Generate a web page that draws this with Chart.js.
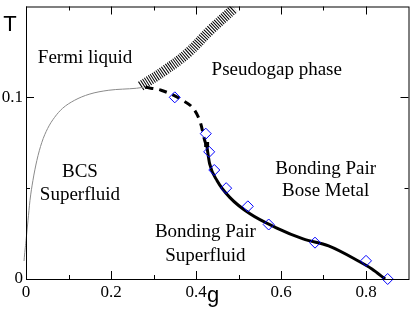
<!DOCTYPE html>
<html>
<head>
<meta charset="utf-8">
<script src="https://cdn.jsdelivr.net/npm/chart.js@4.4.0/dist/chart.umd.min.js"></script>
<style>
  html, body { margin: 0; padding: 0; background: #fff; }
  #wrap { width: 415px; height: 311px; position: relative; }
</style>
</head>
<body>
<div id="wrap"><canvas id="phaseDiagram"></canvas></div>
<script>
// axis ticks
const gMajorTicks = [0, 0.2, 0.4, 0.6, 0.8];
const gTickLabels = ['0', '0.2', '0.4', '0.6', '0.8'];
const gMinorTicks = [0.1, 0.3, 0.5, 0.7];
const tMajorTicks = [0, 0.1];
const tTickLabels = ['0', '0.1'];
const tMinorTicks = [0.05];

// BCS boundary (thin gray line)
const bcsG = [-0.007, -0.0046, 0, 0.0046, 0.0093, 0.0162, 0.0255, 0.0371, 0.051, 0.0673, 0.0858, 0.1137, 0.1485, 0.1949, 0.2599, 0.2761];
const bcsT = [0, 0.0099, 0.021, 0.032, 0.0431, 0.0541, 0.0652, 0.0751, 0.0829, 0.089, 0.0939, 0.0983, 0.1017, 0.1039, 0.105, 0.1055];

// pseudogap crossover (hatched band)
const bandG = [0.27, 0.327, 0.38, 0.434, 0.49];
const bandT = [0.1062, 0.1149, 0.1243, 0.137, 0.149];

// dashed line
const dashG = [0.281, 0.318, 0.369, 0.397, 0.411, 0.422, 0.425];
const dashT = [0.1055, 0.1039, 0.0983, 0.0928, 0.0856, 0.0751, 0.074];

// solid transition line
const solidG = [0.425, 0.432, 0.45, 0.48, 0.527, 0.589, 0.652, 0.712, 0.782, 0.814, 0.845];
const solidT = [0.074, 0.0635, 0.054, 0.0448, 0.0359, 0.0282, 0.0221, 0.0182, 0.0099, 0.0055, 0.0];

// numerical points (open diamonds)
const diamondG = [0.35, 0.423, 0.431, 0.443, 0.471, 0.522, 0.571, 0.68, 0.80, 0.851];
const diamondT = [0.1, 0.08, 0.07, 0.06, 0.05, 0.04, 0.03, 0.02, 0.01, 0.0];

// end point (filled square)
const endG = [0.425];
const endT = [0.074];

function toXY(xs, ys) {
    return xs.map((x, i) => ({ x: x, y: ys[i] }));
}

const serif = '"Liberation Serif", "DejaVu Serif", serif';
const sans = '"Liberation Sans", Arial, sans-serif';

// region names: [text, g, T] (centre, baseline)
const regionLabels = [
    ['Fermi liquid', 0.139, 0.119],
    ['Pseudogap phase', 0.59, 0.1122],
    ['BCS', 0.127, 0.0560],
    ['Superfluid', 0.127, 0.0436],
    ['Bonding Pair', 0.705, 0.0580],
    ['Bose Metal', 0.705, 0.0458],
    ['Bonding Pair', 0.422, 0.0232],
    ['Superfluid', 0.422, 0.0100]
];

const framePlugin = {
    id: 'framePlugin',
    afterDraw(chart) {
        const ctx = chart.ctx;
        const a = chart.chartArea;
        const xs = chart.scales.x;
        const ys = chart.scales.y;
        ctx.save();
        ctx.strokeStyle = '#000';
        ctx.lineWidth = 1;
        ctx.strokeRect(a.left + 0.5, a.top + 0.5, a.right - a.left, a.bottom - a.top);

        ctx.beginPath();
        gMajorTicks.forEach(v => {
            const px = Math.round(xs.getPixelForValue(v)) + 0.5;
            ctx.moveTo(px, a.bottom); ctx.lineTo(px, a.bottom - 8);
            ctx.moveTo(px, a.top); ctx.lineTo(px, a.top + 8);
        });
        gMinorTicks.forEach(v => {
            const px = Math.round(xs.getPixelForValue(v)) + 0.5;
            ctx.moveTo(px, a.bottom); ctx.lineTo(px, a.bottom - 4);
            ctx.moveTo(px, a.top); ctx.lineTo(px, a.top + 4);
        });
        tMajorTicks.forEach(v => {
            const py = Math.round(ys.getPixelForValue(v)) + 0.5;
            ctx.moveTo(a.left, py); ctx.lineTo(a.left + 8, py);
            ctx.moveTo(a.right, py); ctx.lineTo(a.right - 8, py);
        });
        tMinorTicks.forEach(v => {
            const py = Math.round(ys.getPixelForValue(v)) + 0.5;
            ctx.moveTo(a.left, py); ctx.lineTo(a.left + 4, py);
            ctx.moveTo(a.right, py); ctx.lineTo(a.right - 4, py);
        });
        ctx.stroke();

        // tick labels
        ctx.fillStyle = '#000';
        ctx.font = '17px ' + serif;
        ctx.textAlign = 'center';
        ctx.textBaseline = 'alphabetic';
        gMajorTicks.forEach((v, i) => {
            ctx.fillText(gTickLabels[i], xs.getPixelForValue(v), a.bottom + 18);
        });
        ctx.textAlign = 'right';
        ctx.textBaseline = 'middle';
        tMajorTicks.forEach((v, i) => {
            ctx.fillText(tTickLabels[i], a.left - 3, ys.getPixelForValue(v));
        });

        // axis titles
        ctx.font = '22px ' + sans;
        ctx.textAlign = 'center';
        ctx.textBaseline = 'alphabetic';
        ctx.fillText('g', 213, 302);
        ctx.fillText('T', 10, 31);

        // region names
        ctx.font = '19px ' + serif;
        regionLabels.forEach(r => {
            ctx.fillText(r[0], xs.getPixelForValue(r[1]), ys.getPixelForValue(r[2]));
        });
        ctx.restore();
    }
};

new Chart(document.getElementById('phaseDiagram'), {
    type: 'scatter',
    data: {
        datasets: [
            {
                data: toXY(bandG, bandT),
                showLine: true,
                borderColor: '#000',
                borderWidth: 10,
                borderDash: [1, 1.3],
                borderCapStyle: 'butt',
                tension: 0.4,
                pointRadius: 0,
                clip: 0,
                order: 6
            },
            {
                data: toXY(bcsG, bcsT),
                showLine: true,
                borderColor: '#8a8a8a',
                borderWidth: 1,
                cubicInterpolationMode: 'monotone',
                pointRadius: 0,
                clip: false,
                order: 5
            },
            {
                data: toXY(dashG, dashT),
                showLine: true,
                borderColor: '#000',
                borderWidth: 3,
                borderDash: [8, 6],
                cubicInterpolationMode: 'monotone',
                pointRadius: 0,
                order: 4
            },
            {
                data: toXY(solidG, solidT),
                showLine: true,
                borderColor: '#000',
                borderWidth: 3,
                cubicInterpolationMode: 'monotone',
                pointRadius: 0,
                clip: false,
                order: 3
            },
            {
                data: toXY(diamondG, diamondT),
                showLine: false,
                pointStyle: 'rectRot',
                pointRadius: 5.5,
                pointBorderWidth: 1,
                pointBorderColor: '#0000ff',
                pointBackgroundColor: 'rgba(0,0,0,0)',
                clip: false,
                order: 2
            },
            {
                data: toXY(endG, endT),
                showLine: false,
                pointStyle: 'rect',
                pointRadius: 3.5,
                pointBorderWidth: 0,
                pointBackgroundColor: '#000',
                order: 1
            }
        ]
    },
    options: {
        responsive: true,
        maintainAspectRatio: false,
        animation: false,
        layout: { padding: { left: 26, top: 6, right: 1, bottom: 32 } },
        scales: {
            x: { type: 'linear', min: 0, max: 0.9, display: false },
            y: { type: 'linear', min: 0, max: 0.15, display: false }
        },
        plugins: {
            legend: { display: false },
            tooltip: { enabled: false }
        }
    },
    plugins: [framePlugin]
});
</script>
</body>
</html>
